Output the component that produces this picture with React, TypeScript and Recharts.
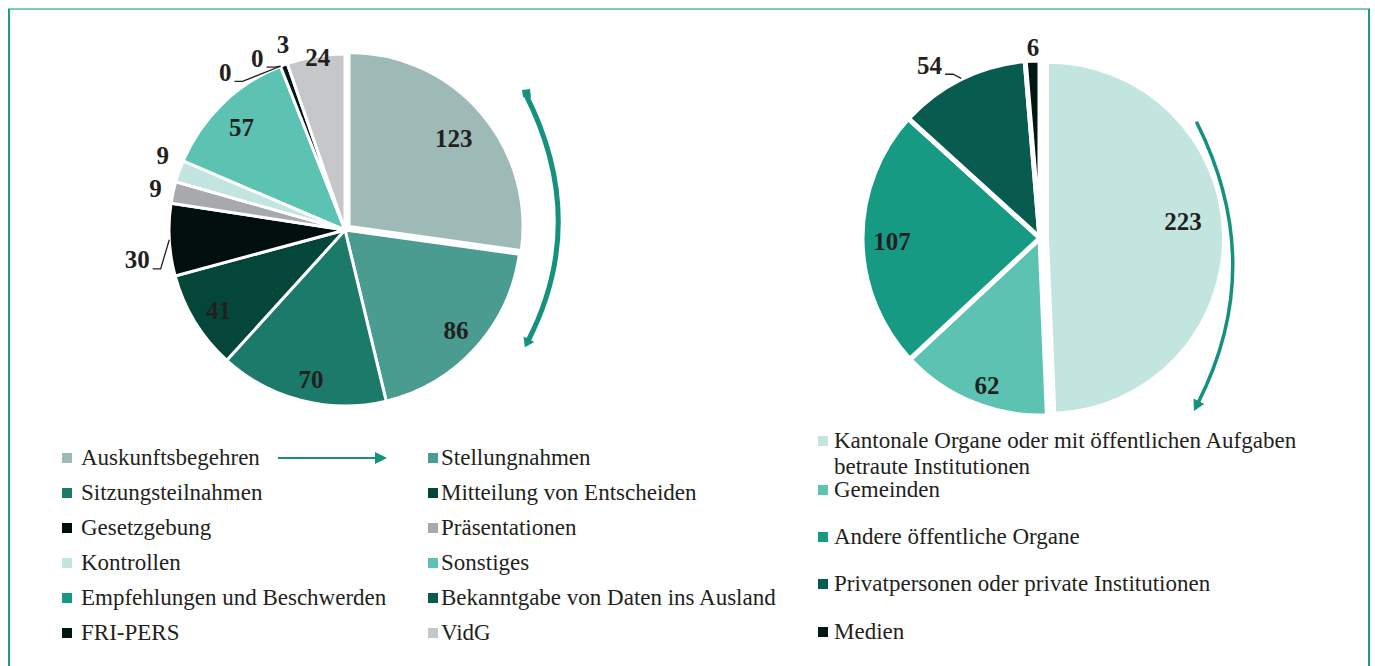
import React from "react";
import { PieChart, Pie, Cell } from "recharts";

// ---------- data ----------
const activityLabels = [
  "Auskunftsbegehren",
  "Stellungnahmen",
  "Sitzungsteilnahmen",
  "Mitteilung von Entscheiden",
  "Gesetzgebung",
  "Präsentationen",
  "Kontrollen",
  "Sonstiges",
  "Empfehlungen und Beschwerden",
  "Bekanntgabe von Daten ins Ausland",
  "FRI-PERS",
  "VidG",
];
const activityValues = [123, 86, 70, 41, 30, 9, 9, 57, 0, 0, 3, 24];

const requesterLabels = [
  "Kantonale Organe oder mit öffentlichen Aufgaben betraute Institutionen",
  "Gemeinden",
  "Andere öffentliche Organe",
  "Privatpersonen oder private Institutionen",
  "Medien",
];
const requesterValues = [223, 62, 107, 54, 6];

// ---------- styles ----------
const activityColors = [
  "#9dbab7",
  "#4a9b90",
  "#1b7a69",
  "#05463b",
  "#020f0e",
  "#a7a9ac",
  "#c3e5df",
  "#5cc2b2",
  "#169a84",
  "#085b4f",
  "#021614",
  "#c6c7c9",
];
const requesterColors = ["#c3e5df", "#5cc2b2", "#169a84", "#085b4f", "#021614"];

const leftLabelLayout = [
  { da: 1, r: 142 },
  { da: 0, r: 150 },
  { da: -1.5, r: 153 },
  { da: -1, r: 150 },
  { da: -5, r: 210, leader: true },
  { da: 0, r: 194 },
  { da: 2.8, r: 197 },
  { da: -1, r: 146 },
  { da: -15.7, r: 198, leader: true },
  { da: -5.5, r: 193, leader: true },
  { da: 1.9, r: 196 },
  { da: 0.6, r: 175 },
];
const rightLabelLayout = [
  { da: -5.2, r: 144 },
  { da: -2.6, r: 157 },
  { da: -0.8, r: 148 },
  { da: -6.3, r: 205, leader: true },
  { da: 0.3, r: 191 },
];

const SERIF = "'Liberation Serif', 'Times New Roman', serif";
const TEXT = "#231f20";
const TEAL = "#15917e";
const RAD = Math.PI / 180;

const leftData = activityLabels.map((name, i) => ({ name, value: activityValues[i] }));
const rightData = requesterLabels.map((name, i) => ({ name, value: requesterValues[i] }));

const makeLabel = (layout: any[]) => (props: any) => {
  const { cx, cy, midAngle, outerRadius, index, value } = props;
  const cfg = layout[index];
  if (!cfg) return null;
  const clockMid = 90 - midAngle;
  const th = (clockMid + cfg.da) * RAD;
  const x = cx + cfg.r * Math.sin(th);
  const y = cy - cfg.r * Math.cos(th);
  const fs = 25;
  const w = String(value).length * fs * 0.5;
  let leader = null;
  if (cfg.leader) {
    const ex = cx + outerRadius * Math.sin(clockMid * RAD);
    const ey = cy - outerRadius * Math.cos(clockMid * RAD);
    const lx = x + w / 2 + 3;
    const ly = y + 9;
    leader = (
      <polyline
        points={`${lx},${ly} ${lx + 8},${ly} ${ex},${ey}`}
        fill="none"
        stroke={TEXT}
        strokeWidth={1.3}
      />
    );
  }
  return (
    <g key={`lbl-${index}`}>
      {leader}
      <text
        x={x}
        y={y + fs * 0.34}
        textAnchor="middle"
        fontFamily={SERIF}
        fontWeight="bold"
        fontSize={fs}
        fill={TEXT}
      >
        {value}
      </text>
    </g>
  );
};

const LCX = 345;
const LCY = 230;
const LR = 176;
const RCX = 1040;
const RCY = 238;
const RR = 178;

function explodeOffset(values: number[], idx: number, dist: number) {
  const total = values.reduce((a, b) => a + b, 0);
  let before = 0;
  for (let i = 0; i < idx; i++) before += values[i];
  const mid = ((before + values[idx] / 2) / total) * 360;
  return { dx: dist * Math.sin(mid * RAD), dy: -dist * Math.cos(mid * RAD) };
}

const lOff = explodeOffset(activityValues, 0, 6);
const rOff = explodeOffset(requesterValues, 0, 8);

function arrowHead(ex: number, ey: number, qx: number, qy: number, len: number, half: number) {
  const dx = ex - qx;
  const dy = ey - qy;
  const l = Math.hypot(dx, dy);
  const ux = dx / l;
  const uy = dy / l;
  const px = -uy;
  const py = ux;
  const tip = [ex + ux * len, ey + uy * len];
  const a = [ex + px * half - ux * 2, ey + py * half - uy * 2];
  const b = [ex - px * half - ux * 2, ey - py * half - uy * 2];
  return `${tip[0]},${tip[1]} ${a[0]},${a[1]} ${b[0]},${b[1]}`;
}

const legendText: React.CSSProperties = {
  position: "absolute",
  fontFamily: SERIF,
  fontSize: 23,
  color: TEXT,
  whiteSpace: "nowrap",
  lineHeight: "26px",
};

function Swatch({ x, y, color }: { x: number; y: number; color: string }) {
  return (
    <div
      style={{
        position: "absolute",
        left: x,
        top: y - 5,
        width: 10,
        height: 10,
        background: color,
      }}
    />
  );
}

const noMargin = { top: 0, right: 0, bottom: 0, left: 0 };

export default function App() {
  const leftRows = [458, 493, 528, 563, 598, 633];
  const rightRows = [441, 490, 537, 584, 632];
  return (
    <div
      style={{
        position: "absolute",
        left: 0,
        top: 0,
        width: 1375,
        height: 666,
        background: "#ffffff",
        overflow: "hidden",
      }}
    >
      {/* frame */}
      <div style={{ position: "absolute", left: 8, top: 8, width: 1362, height: 2, background: "#7fcbbd" }} />
      <div style={{ position: "absolute", left: 8, top: 9, width: 2, height: 660, background: "#1a9e8a" }} />
      <div style={{ position: "absolute", left: 1368, top: 9, width: 2, height: 660, background: "#1a9e8a" }} />

      <div style={{ position: "absolute", left: 0, top: 0 }}>
        <PieChart width={1375} height={430} margin={noMargin}>
          <Pie
            data={leftData}
            dataKey="value"
            nameKey="name"
            cx={LCX}
            cy={LCY}
            outerRadius={LR}
            startAngle={90}
            endAngle={-270}
            stroke="#ffffff"
            strokeWidth={3}
            label={makeLabel(leftLabelLayout)}
            labelLine={false}
            isAnimationActive={false}
          >
            {leftData.map((d, i) => (
              <Cell
                key={d.name}
                fill={i === 0 ? "transparent" : activityColors[i]}
                stroke={i === 0 ? "none" : "#ffffff"}
              />
            ))}
          </Pie>
          <Pie
            data={leftData}
            dataKey="value"
            nameKey="name"
            cx={LCX + lOff.dx}
            cy={LCY + lOff.dy}
            outerRadius={LR - 3}
            startAngle={90}
            endAngle={-270}
            stroke="#ffffff"
            strokeWidth={2}
            label={false}
            labelLine={false}
            isAnimationActive={false}
          >
            {leftData.map((d, i) => (
              <Cell key={d.name} fill={i === 0 ? activityColors[0] : "transparent"} stroke={i === 0 ? "#ffffff" : "none"} />
            ))}
          </Pie>

          <Pie
            data={rightData}
            dataKey="value"
            nameKey="name"
            cx={RCX}
            cy={RCY}
            outerRadius={RR}
            startAngle={90}
            endAngle={-270}
            stroke="#ffffff"
            strokeWidth={5}
            label={makeLabel(rightLabelLayout)}
            labelLine={false}
            isAnimationActive={false}
          >
            {rightData.map((d, i) => (
              <Cell
                key={d.name}
                fill={i === 0 ? "transparent" : requesterColors[i]}
                stroke={i === 0 ? "none" : "#ffffff"}
              />
            ))}
          </Pie>
          <Pie
            data={rightData}
            dataKey="value"
            nameKey="name"
            cx={RCX + rOff.dx}
            cy={RCY + rOff.dy}
            outerRadius={RR - 3}
            startAngle={90}
            endAngle={-270}
            stroke="#ffffff"
            strokeWidth={2}
            label={false}
            labelLine={false}
            isAnimationActive={false}
          >
            {rightData.map((d, i) => (
              <Cell key={d.name} fill={i === 0 ? requesterColors[0] : "transparent"} stroke={i === 0 ? "#ffffff" : "none"} />
            ))}
          </Pie>
        </PieChart>
      </div>

      {/* arrows */}
      <svg width={1375} height={666} style={{ position: "absolute", left: 0, top: 0, pointerEvents: "none" }}>
        <path d="M525,93 Q590,220 528,341" fill="none" stroke={TEAL} strokeWidth={5} strokeLinecap="butt" />
        <polygon points="522,90 530,89 531,98 523,97" fill={TEAL} />
        <polygon points={arrowHead(528, 341, 590, 220, 7, 6)} fill={TEAL} />
        <path d="M1197,123 Q1268,265 1198,403" fill="none" stroke={TEAL} strokeWidth={3.5} strokeLinecap="round" />
        <polygon points={arrowHead(1198, 403, 1268, 265, 9, 6)} fill={TEAL} />
        <line x1={278} y1={458} x2={377} y2={458} stroke={TEAL} strokeWidth={2} />
        <polygon points="375,452 387,458 375,464" fill={TEAL} />
      </svg>

      {/* left legend */}
      {activityLabels.map((name, i) => {
        const col = i % 2;
        const row = Math.floor(i / 2);
        const y = leftRows[row];
        const sx = col === 0 ? 62 : 428;
        const tx = col === 0 ? 81 : 441;
        return (
          <React.Fragment key={name}>
            <Swatch x={sx} y={y} color={activityColors[i]} />
            <div style={{ ...legendText, left: tx, top: y - 13 }}>{name}</div>
          </React.Fragment>
        );
      })}

      {/* right legend */}
      {requesterLabels.map((name, i) => {
        const y = rightRows[i];
        return (
          <React.Fragment key={name}>
            <Swatch x={818} y={y} color={requesterColors[i]} />
            <div
              style={{
                ...legendText,
                left: 834,
                top: y - 13,
                whiteSpace: "normal",
                width: 480,
              }}
            >
              {name}
            </div>
          </React.Fragment>
        );
      })}
    </div>
  );
}
